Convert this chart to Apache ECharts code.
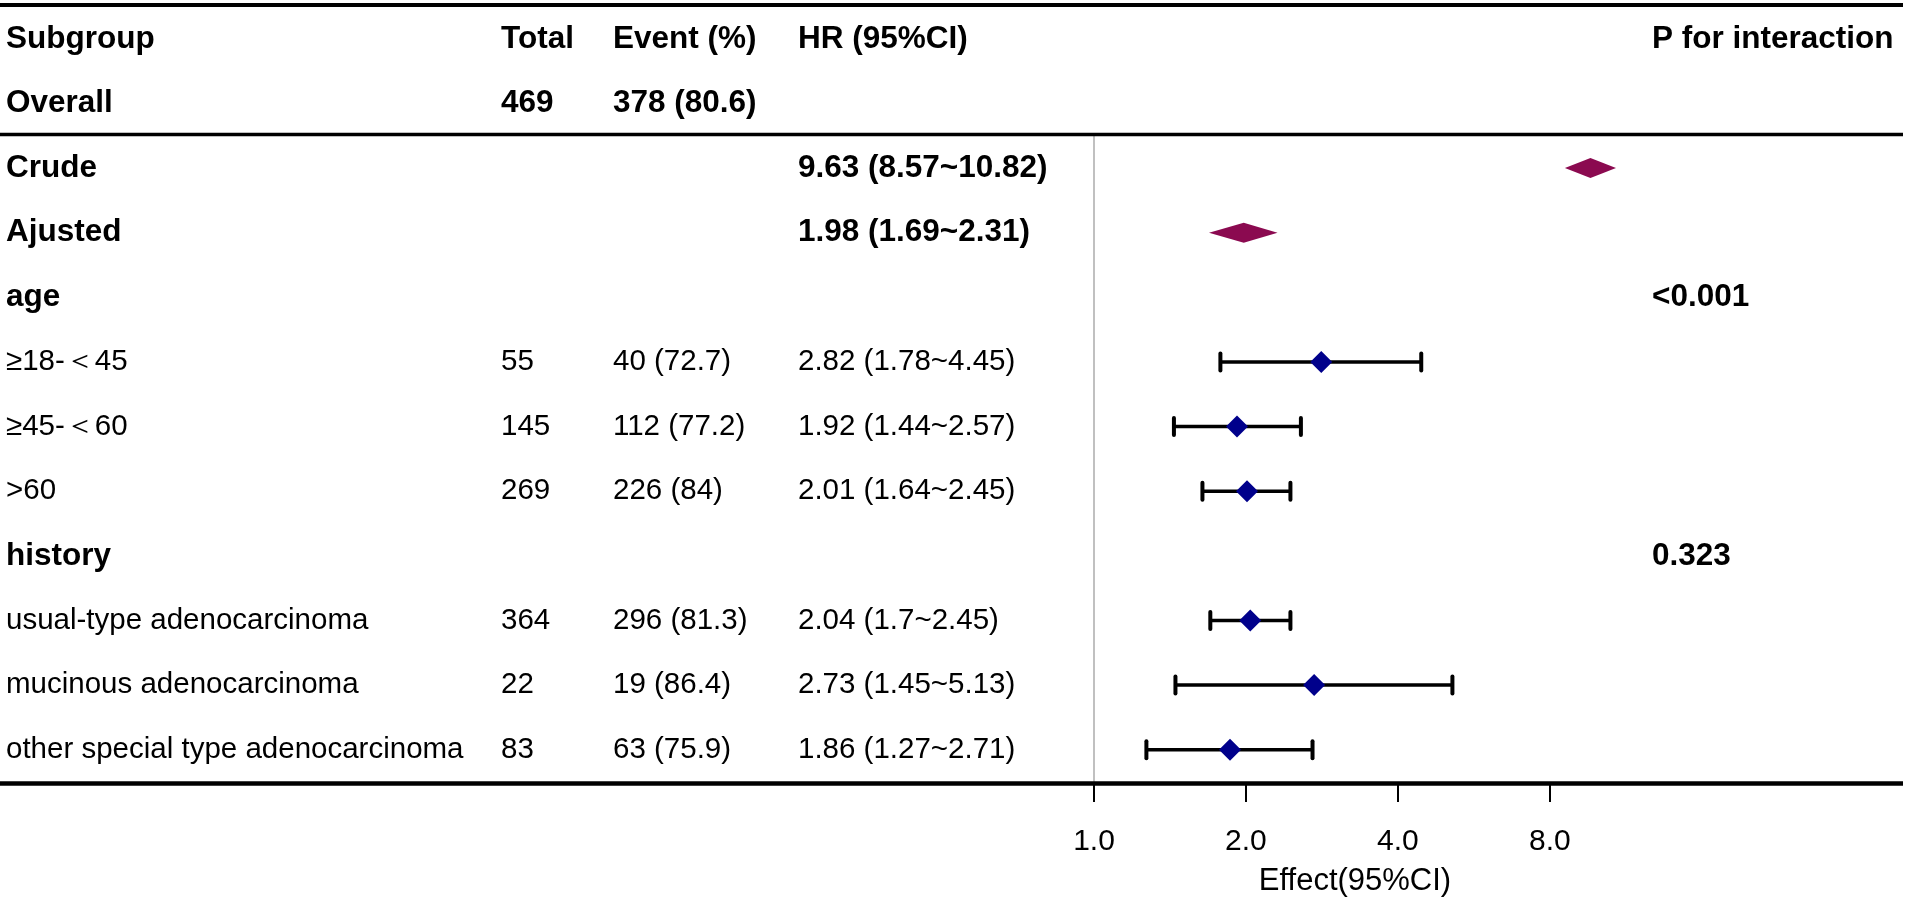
<!DOCTYPE html>
<html>
<head>
    <meta charset="utf-8" />
    <title>Subgroup forest plot</title>
    <style>
        html, body { margin: 0; padding: 0; background: #fff; }
        #forest { width: 1907px; height: 902px; }
    </style>
</head>
<body>
    <div id="forest"></div>
    <script type="text/javascript" src="https://cdn.jsdelivr.net/npm/echarts@6.0.0/dist/echarts.min.js"></script>
    <script type="text/javascript">
        // table rows, top to bottom
        const subgroups = ['Subgroup', 'Overall', 'Crude', 'Ajusted', 'age', '≥18-＜45', '≥45-＜60', '>60',
            'history', 'usual-type adenocarcinoma', 'mucinous adenocarcinoma', 'other special type adenocarcinoma'];
        const totals = ['Total', '469', '', '', '', '55', '145', '269', '', '364', '22', '83'];
        const events = ['Event (%)', '378 (80.6)', '', '', '', '40 (72.7)', '112 (77.2)', '226 (84)', '', '296 (81.3)', '19 (86.4)', '63 (75.9)'];
        const hr = [null, null, 9.63, 1.98, null, 2.82, 1.92, 2.01, null, 2.04, 2.73, 1.86];
        const lower = [null, null, 8.57, 1.69, null, 1.78, 1.44, 1.64, null, 1.7, 1.45, 1.27];
        const upper = [null, null, 10.82, 2.31, null, 4.45, 2.57, 2.45, null, 2.45, 5.13, 2.71];
        const pInteraction = ['P for interaction', '', '', '', '<0.001', '', '', '', '0.323', '', '', ''];
        const boldRows = [0, 1, 2, 3, 4, 8];
        const summaryRows = [2, 3];
        // x axis (log2 scale)
        const tickValues = [1, 2, 4, 8];
        const tickLabels = ['1.0', '2.0', '4.0', '8.0'];

        const FONT = '"Liberation Sans", Arial, Helvetica, sans-serif';
        const colX = [6, 501, 613, 798, 1652];

        const hrText = hr.map(function (v, i) {
            if (i === 0) return 'HR (95%CI)';
            if (v == null) return '';
            return v + ' (' + lower[i] + '~' + upper[i] + ')';
        });

        // one item per table row
        const tableData = subgroups.map(function (s, i) { return [0, i]; });
        // one item per row that has an estimate
        const ciData = [];
        hr.forEach(function (v, i) {
            if (v != null) ciData.push([Math.log2(lower[i]), Math.log2(upper[i]), Math.log2(v), i]);
        });
        const xMax = Math.log2(Math.max.apply(null, upper.filter(function (v) { return v != null; })));

        const forest = echarts.init(document.getElementById('forest'));
        const option = {
            backgroundColor: '#fff',
            animation: false,
            grid: { left: 1094, right: 291, top: 6.5, bottom: 118.6 },
            xAxis: {
                type: 'value',
                min: 0,
                max: xMax,
                interval: 1,
                splitLine: { show: false },
                axisLine: { show: false },
                axisTick: {
                    show: true,
                    length: 20,
                    customValues: tickValues.map(Math.log2),
                    lineStyle: { color: '#000', width: 2 }
                },
                axisLabel: {
                    customValues: tickValues.map(Math.log2),
                    margin: 45,
                    color: '#000',
                    fontSize: 30,
                    fontFamily: FONT,
                    formatter: function (v) {
                        const k = tickValues.indexOf(Math.round(Math.pow(2, v)));
                        return k >= 0 ? tickLabels[k] : '';
                    }
                },
                name: 'Effect(95%CI)',
                nameLocation: 'middle',
                nameGap: 84,
                nameTextStyle: { color: '#000', fontSize: 31, fontFamily: FONT }
            },
            yAxis: {
                type: 'category',
                data: subgroups,
                inverse: true,
                show: false
            },
            graphic: [
                { type: 'line', z: 1, shape: { x1: 0, y1: 5, x2: 1903, y2: 5 }, style: { stroke: '#000', lineWidth: 4 } },
                { type: 'line', z: 1, shape: { x1: 0, y1: 134.5, x2: 1903, y2: 134.5 }, style: { stroke: '#000', lineWidth: 3.5 } },
                { type: 'line', z: 0, shape: { x1: 1094, y1: 134, x2: 1094, y2: 783 }, style: { stroke: '#c0c0c0', lineWidth: 2 } },
                { type: 'line', z: 1, shape: { x1: 0, y1: 783.5, x2: 1903, y2: 783.5 }, style: { stroke: '#000', lineWidth: 4.5 } }
            ],
            series: [
                {
                    name: 'table',
                    type: 'custom',
                    clip: false,
                    silent: true,
                    encode: { x: 0, y: 1 },
                    data: tableData,
                    renderItem: function (params, api) {
                        const i = api.value(1);
                        const y = api.coord([0, i])[1];
                        const bold = boldRows.indexOf(i) >= 0;
                        const cells = [subgroups[i], totals[i], events[i], hrText[i], pInteraction[i]];
                        return {
                            type: 'group',
                            children: cells.map(function (t, k) {
                                return {
                                    type: 'text',
                                    style: {
                                        text: t,
                                        x: colX[k],
                                        y: y,
                                        verticalAlign: 'middle',
                                        align: 'left',
                                        fill: '#000',
                                        fontSize: bold ? 31.5 : 29.5,
                                        fontWeight: bold ? 'bold' : 'normal',
                                        fontFamily: FONT
                                    }
                                };
                            })
                        };
                    }
                },
                {
                    name: 'HR',
                    type: 'custom',
                    clip: false,
                    z: 3,
                    encode: { x: [0, 1, 2], y: 3 },
                    data: ciData,
                    renderItem: function (params, api) {
                        const i = api.value(3);
                        const lo = api.coord([api.value(0), i]);
                        const up = api.coord([api.value(1), i]);
                        const mid = api.coord([api.value(2), i]);
                        const y = mid[1];
                        if (summaryRows.indexOf(i) >= 0) {
                            return {
                                type: 'polygon',
                                shape: { points: [[lo[0], y], [mid[0], y - 10], [up[0], y], [mid[0], y + 10]] },
                                style: { fill: '#8b0a50' }
                            };
                        }
                        const bar = { stroke: '#000', lineWidth: 3.5 };
                        const cap = { stroke: '#000', lineWidth: 4, lineCap: 'round' };
                        return {
                            type: 'group',
                            children: [
                                { type: 'line', shape: { x1: lo[0], y1: y, x2: up[0], y2: y }, style: bar },
                                { type: 'line', shape: { x1: lo[0], y1: y - 8.5, x2: lo[0], y2: y + 8.5 }, style: cap },
                                { type: 'line', shape: { x1: up[0], y1: y - 8.5, x2: up[0], y2: y + 8.5 }, style: cap },
                                {
                                    type: 'polygon',
                                    shape: { points: [[mid[0] - 11, y], [mid[0], y - 11], [mid[0] + 11, y], [mid[0], y + 11]] },
                                    style: { fill: '#00008b' }
                                }
                            ]
                        };
                    }
                }
            ]
        };
        forest.setOption(option);
    </script>
</body>
</html>
